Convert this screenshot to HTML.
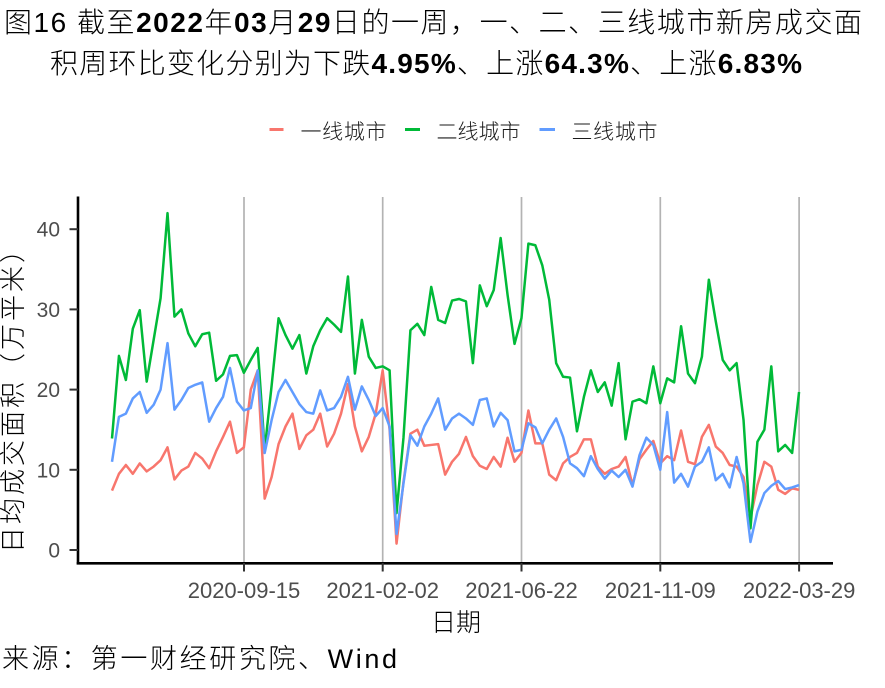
<!DOCTYPE html>
<html>
<head>
<meta charset="utf-8">
<style>
  html,body{margin:0;padding:0;background:#fff;}
  svg{display:block;}
  text{font-family:"Liberation Sans","Noto Sans CJK SC",sans-serif;}
</style>
</head>
<body>
<svg width="885" height="688" viewBox="0 0 885 688" xmlns="http://www.w3.org/2000/svg">
  <rect x="0" y="0" width="885" height="688" fill="#ffffff"/>

  <!-- Title -->
  <text x="4" y="32" font-size="28" font-weight="300" fill="#000" textLength="858" lengthAdjust="spacing">图16  截至<tspan font-weight="bold">2022</tspan>年<tspan font-weight="bold">03</tspan>月<tspan font-weight="bold">29</tspan>日的一周，一、二、三线城市新房成交面</text>
  <text x="50" y="73" font-size="28" font-weight="300" fill="#000" textLength="752" lengthAdjust="spacing">积周环比变化分别为下跌<tspan font-weight="bold">4.95%</tspan>、上涨<tspan font-weight="bold">64.3%</tspan>、上涨<tspan font-weight="bold">6.83%</tspan></text>

  <!-- Legend -->
  <line x1="269.5" y1="129.5" x2="283.5" y2="129.5" stroke="#F8766D" stroke-width="3"/>
  <text x="300.5" y="139" font-size="21" font-weight="300" fill="#1a1a1a" textLength="86" lengthAdjust="spacing">一线城市</text>
  <line x1="405" y1="129.5" x2="420" y2="129.5" stroke="#00BA38" stroke-width="3"/>
  <text x="436.5" y="139" font-size="21" font-weight="300" fill="#1a1a1a" textLength="84" lengthAdjust="spacing">二线城市</text>
  <line x1="539.5" y1="129.5" x2="555" y2="129.5" stroke="#619CFF" stroke-width="3"/>
  <text x="571.5" y="139" font-size="21" font-weight="300" fill="#1a1a1a" textLength="86" lengthAdjust="spacing">三线城市</text>

  <!-- Vertical gridlines -->
  <g stroke="#b3b3b3" stroke-width="1.7">
    <line x1="244" y1="197" x2="244" y2="563"/>
    <line x1="382.7" y1="197" x2="382.7" y2="563"/>
    <line x1="521.5" y1="197" x2="521.5" y2="563"/>
    <line x1="660.3" y1="197" x2="660.3" y2="563"/>
    <line x1="799.1" y1="197" x2="799.1" y2="563"/>
  </g>

  <!-- Series -->
  <g transform="translate(112,550) scale(6.94,-8.02)" fill="none" stroke-linejoin="round" stroke-linecap="butt">
    <polyline vector-effect="non-scaling-stroke" stroke="#F8766D" stroke-width="2.5"
      points="0,7.4 1,9.5 2,10.6 3,9.5 4,10.8 5,9.8 6,10.4 7,11.2 8,12.8 9,8.8 10,9.9 11,10.4 12,12.1 13,11.4 14,10.2 15,12.3 16,14.1 17,16.0 18,12.1 19,12.8 20,20.0 21,22.4 22,6.4 23,9.1 24,13.2 25,15.4 26,17.0 27,12.6 28,14.3 29,15.0 30,17.0 31,12.9 32,14.5 33,17.0 34,20.7 35,15.4 36,12.3 37,14.1 38,17.0 39,22.4 40,15.0 41,0.8 42,8.5 43,14.5 44,15.0 45,13.0 46,13.1 47,13.2 48,9.4 49,11.0 50,12.0 51,14.1 52,11.7 53,10.5 54,10.1 55,11.6 56,10.4 57,14.0 58,11.0 59,12.1 60,17.4 61,13.3 62,13.3 63,9.4 64,8.7 65,10.8 66,11.6 67,12.1 68,13.8 69,13.8 70,10.4 71,9.5 72,10.1 73,10.4 74,11.6 75,8.1 76,11.3 77,12.5 78,13.6 79,10.8 80,11.7 81,11.2 82,14.9 83,11.0 84,10.7 85,14.1 86,15.6 87,12.9 88,12.1 89,10.6 90,10.4 91,9.1 92,4.0 93,8.1 94,11.0 95,10.4 96,7.5 97,7.0 98,7.7 99,7.5"/>
    <polyline vector-effect="non-scaling-stroke" stroke="#00BA38" stroke-width="2.5"
      points="0,13.9 1,24.2 2,21.2 3,27.6 4,29.9 5,21.0 6,26.2 7,31.4 8,42.0 9,29.1 10,30.0 11,27.0 12,25.4 13,26.9 14,27.1 15,21.1 16,21.9 17,24.2 18,24.3 19,22.1 20,23.7 21,25.2 22,12.5 23,20.5 24,28.9 25,26.8 26,25.1 27,26.8 28,22.0 29,25.4 30,27.4 31,28.9 32,28.1 33,27.2 34,34.1 35,22.0 36,28.7 37,24.1 38,22.7 39,22.9 40,22.4 41,4.6 42,14.0 43,27.4 44,28.2 45,26.8 46,32.8 47,28.7 48,28.3 49,31.1 50,31.3 51,31.0 52,23.3 53,33.0 54,30.4 55,32.4 56,38.9 57,31.8 58,25.7 59,28.9 60,38.2 61,38.0 62,35.5 63,31.2 64,23.3 65,21.6 66,21.5 67,14.8 68,19.1 69,22.4 70,19.7 71,20.9 72,18.0 73,23.3 74,13.8 75,18.5 76,18.8 77,18.3 78,22.9 79,18.3 80,21.4 81,20.9 82,27.9 83,22.0 84,20.8 85,24.1 86,33.7 87,28.5 88,23.7 89,22.4 90,23.3 91,16.2 92,2.7 93,13.5 94,15.0 95,22.9 96,12.3 97,13.1 98,12.1 99,19.7"/>
    <polyline vector-effect="non-scaling-stroke" stroke="#619CFF" stroke-width="2.5"
      points="0,11.0 1,16.6 2,17.0 3,18.9 4,19.7 5,17.1 6,18.1 7,20.0 8,25.8 9,17.5 10,18.7 11,20.2 12,20.6 13,20.9 14,16.0 15,17.7 16,19.1 17,22.7 18,18.5 19,17.4 20,17.7 21,22.4 22,12.1 23,16.2 24,19.7 25,21.2 26,19.7 27,18.2 28,17.2 29,17.0 30,19.9 31,17.4 32,17.7 33,19.1 34,21.6 35,17.5 36,20.4 37,18.7 38,16.7 39,17.7 40,15.4 41,2.0 42,8.3 43,14.3 44,13.0 45,15.4 46,17.0 47,18.9 48,15.0 49,16.4 50,17.0 51,16.4 52,15.6 53,18.7 54,18.9 55,15.4 56,17.1 57,16.2 58,12.3 59,12.5 60,15.8 61,15.3 62,13.3 63,15.0 64,16.4 65,14.1 66,10.8 67,10.2 68,9.2 69,11.7 70,10.1 71,8.9 72,9.9 73,9.1 74,10.0 75,7.9 76,11.8 77,14.0 78,13.1 79,10.0 80,17.2 81,8.4 82,9.5 83,7.9 84,10.4 85,11.0 86,12.8 87,8.7 88,9.5 89,7.8 90,11.6 91,8.3 92,1.0 93,4.8 94,7.1 95,8.0 96,8.6 97,7.6 98,7.8 99,8.1"/>
  </g>

  <!-- Axes lines -->
  <line x1="78" y1="196.5" x2="78" y2="564.5" stroke="#000" stroke-width="2.6"/>
  <line x1="76.7" y1="563.3" x2="833" y2="563.3" stroke="#000" stroke-width="2.6"/>

  <!-- Y ticks -->
  <g stroke="#333333" stroke-width="2">
    <line x1="69.5" y1="550" x2="78" y2="550"/>
    <line x1="69.5" y1="469.8" x2="78" y2="469.8"/>
    <line x1="69.5" y1="389.6" x2="78" y2="389.6"/>
    <line x1="69.5" y1="309.4" x2="78" y2="309.4"/>
    <line x1="69.5" y1="229.2" x2="78" y2="229.2"/>
  </g>
  <g font-size="21" fill="#4d4d4d" text-anchor="end">
    <text x="60" y="557.5">0</text>
    <text x="60" y="477.3">10</text>
    <text x="60" y="397.1">20</text>
    <text x="60" y="316.9">30</text>
    <text x="60" y="236.7">40</text>
  </g>

  <!-- X ticks -->
  <g stroke="#333333" stroke-width="2">
    <line x1="244" y1="563" x2="244" y2="571.5"/>
    <line x1="382.7" y1="563" x2="382.7" y2="571.5"/>
    <line x1="521.5" y1="563" x2="521.5" y2="571.5"/>
    <line x1="660.3" y1="563" x2="660.3" y2="571.5"/>
    <line x1="799.1" y1="563" x2="799.1" y2="571.5"/>
  </g>
  <g font-size="22" fill="#4d4d4d" text-anchor="middle">
    <text x="244" y="598">2020-09-15</text>
    <text x="382.7" y="598">2021-02-02</text>
    <text x="521.5" y="598">2021-06-22</text>
    <text x="660.3" y="598">2021-11-09</text>
    <text x="799.1" y="598">2022-03-29</text>
  </g>

  <!-- Axis titles -->
  <text x="456" y="631" font-size="25" font-weight="300" fill="#000" text-anchor="middle">日期</text>
  <text transform="translate(22,395) rotate(-90)" font-size="26" font-weight="300" fill="#000" text-anchor="middle" textLength="316" lengthAdjust="spacing">日均成交面积（万平米）</text>

  <!-- Caption -->
  <text x="2" y="668" font-size="27" font-weight="300" fill="#000" textLength="395" lengthAdjust="spacing">来源：第一财经研究院、Wind</text>
</svg>
</body>
</html>
